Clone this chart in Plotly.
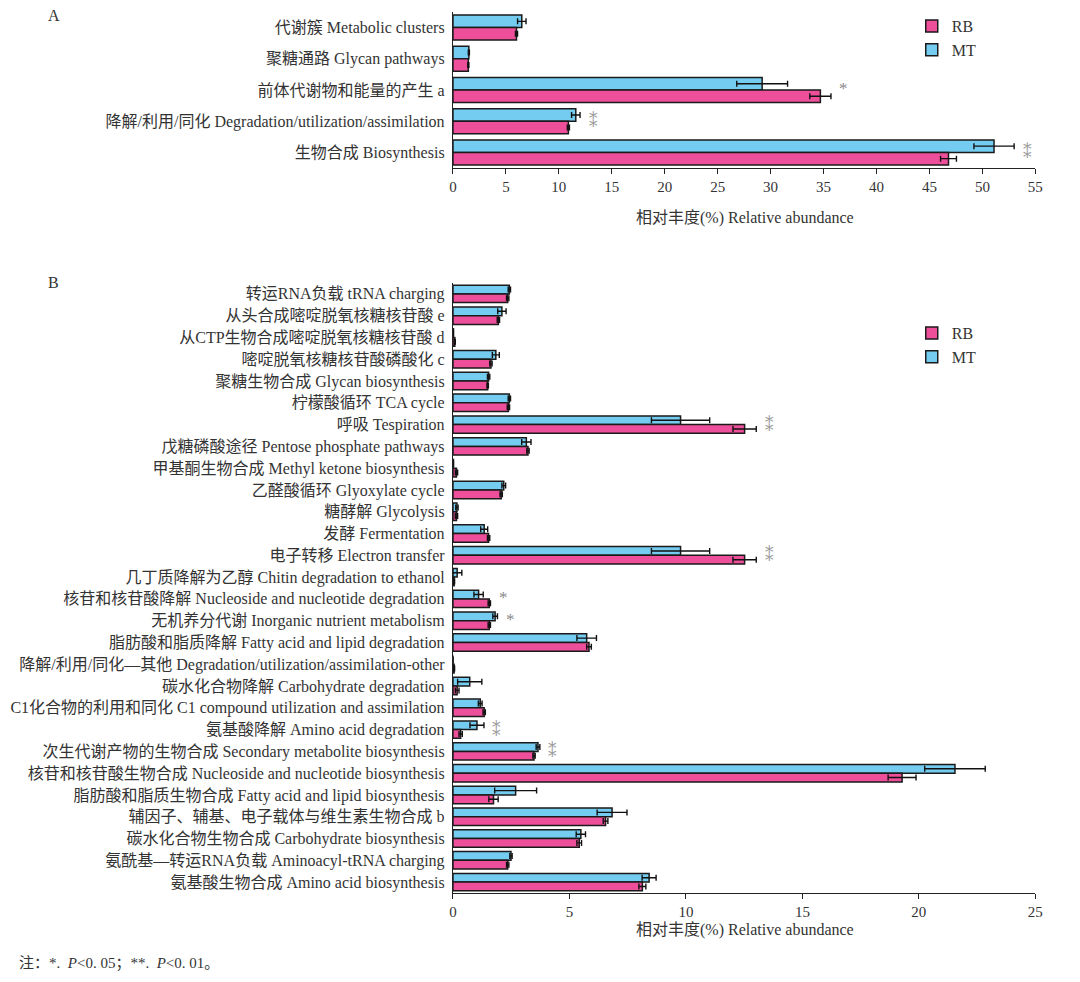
import plotly.graph_objects as go

# page has an 8px body margin: size the figure to fit inside it
OFF = 8
W, H = 1080 - 2 * OFF, 982 - 2 * OFF
FONT = "Liberation Serif, Times New Roman, Noto Sans CJK SC, serif"
TXT = "#333333"
C_RB = "#EE4F9B"
C_MT = "#74CDF1"

# ---------------- Panel A data ----------------
cats_a = ["代谢簇 Metabolic clusters", "聚糖通路 Glycan pathways", "前体代谢物和能量的产生 a",
          "降解/利用/同化 Degradation/utilization/assimilation", "生物合成 Biosynthesis"]
mt_a = [6.5, 1.5, 29.2, 11.6, 51.1]
mt_a_err = [0.4, 0.05, 2.4, 0.4, 1.9]
rb_a = [6.0, 1.45, 34.7, 10.9, 46.8]
rb_a_err = [0.1, 0.05, 1.0, 0.1, 0.75]
sig_a = ["", "", "*", "**", "**"]
ticks_a = list(range(0, 56, 5))

# ---------------- Panel B data ----------------
cats_b = ["转运RNA负载 tRNA charging", "从头合成嘧啶脱氧核糖核苷酸 e", "从CTP生物合成嘧啶脱氧核糖核苷酸 d",
          "嘧啶脱氧核糖核苷酸磷酸化 c", "聚糖生物合成 Glycan biosynthesis", "柠檬酸循环 TCA cycle",
          "呼吸 Tespiration", "戊糖磷酸途径 Pentose phosphate pathways",
          "甲基酮生物合成 Methyl ketone biosynthesis", "乙醛酸循环 Glyoxylate cycle", "糖酵解 Glycolysis",
          "发酵 Fermentation", "电子转移 Electron transfer", "几丁质降解为乙醇 Chitin degradation to ethanol",
          "核苷和核苷酸降解 Nucleoside and nucleotide degradation",
          "无机养分代谢 Inorganic nutrient metabolism", "脂肪酸和脂质降解 Fatty acid and lipid degradation",
          "降解/利用/同化—其他 Degradation/utilization/assimilation-other",
          "碳水化合物降解 Carbohydrate degradation",
          "C1化合物的利用和同化 C1 compound utilization and assimilation",
          "氨基酸降解 Amino acid degradation", "次生代谢产物的生物合成 Secondary metabolite biosynthesis",
          "核苷和核苷酸生物合成 Nucleoside and nucleotide biosynthesis",
          "脂肪酸和脂质生物合成 Fatty acid and lipid biosynthesis", "辅因子、辅基、电子载体与维生素生物合成 b",
          "碳水化合物生物合成 Carbohydrate biosynthesis", "氨酰基—转运RNA负载 Aminoacyl-tRNA charging",
          "氨基酸生物合成 Amino acid biosynthesis"]
mt_b = [2.42, 2.1, 0.02, 1.84, 1.53, 2.42, 9.77, 3.15, 0.02, 2.18, 0.17, 1.34, 9.77, 0.18, 1.1, 1.81,
        5.74, 0.0, 0.72, 1.17, 1.03, 3.65, 21.55, 2.69, 6.83, 5.49, 2.49, 8.42]
mt_b_err = [0.05, 0.18, 0.0, 0.15, 0.05, 0.05, 1.25, 0.2, 0.0, 0.08, 0.05, 0.15, 1.25, 0.2, 0.2, 0.1,
            0.42, 0.0, 0.52, 0.08, 0.3, 0.08, 1.3, 0.9, 0.64, 0.2, 0.05, 0.3]
rb_b = [2.35, 1.95, 0.08, 1.63, 1.49, 2.38, 12.52, 3.22, 0.15, 2.07, 0.15, 1.53, 12.52, 0.05, 1.56, 1.56,
        5.84, 0.05, 0.18, 1.34, 0.33, 3.48, 19.28, 1.74, 6.55, 5.42, 2.35, 8.13]
rb_b_err = [0.05, 0.05, 0.02, 0.05, 0.03, 0.05, 0.5, 0.05, 0.05, 0.05, 0.05, 0.05, 0.5, 0.02, 0.05, 0.05,
            0.1, 0.02, 0.08, 0.05, 0.07, 0.05, 0.6, 0.2, 0.1, 0.1, 0.05, 0.15]
sig_b = ["", "", "", "", "", "", "**", "", "", "", "", "", "**", "", "*", "*", "", "", "", "", "**", "**",
         "", "", "", "", "", ""]
ticks_b = list(range(0, 26, 5))

# ---------------- geometry helpers (reference page pixels -> paper) ----------------
def px(x):
    return (x - OFF) / W

def py(y):
    return 1 - (y - OFF) / H

X0, X1 = 454, 1043
A_TOP, A_BOT = 12, 168
B_TOP, B_BOT = 283, 893

fig = go.Figure()

def add_panel(cats, mt, mte, rb, rbe, xa, ya, legend):
    common = dict(orientation="h", marker_line_color="#1a1a1a", marker_line_width=1.5,
                  xaxis=xa, yaxis=ya, legend=legend)
    fig.add_trace(go.Bar(y=cats, x=mt, name="MT", marker_color=C_MT, legendrank=2,
                         error_x=dict(type="data", array=mte, color="#111111", thickness=1.4, width=3),
                         **common))
    fig.add_trace(go.Bar(y=cats, x=rb, name="RB", marker_color=C_RB, legendrank=1,
                         error_x=dict(type="data", array=rbe, color="#111111", thickness=1.4, width=3),
                         **common))

add_panel(cats_a, mt_a, mt_a_err, rb_a, rb_a_err, "x", "y", "legend")
add_panel(cats_b, mt_b, mt_b_err, rb_b, rb_b_err, "x2", "y2", "legend2")

annotations = []
STAR_FONT = dict(family=FONT, size=17, color="#8a8a8a")
DSTAR_FONT = dict(family="DejaVu Serif, DejaVu Sans", size=17, color="#9a9a9a")

def add_sig(cats, mt, mte, rb, rbe, sig, xref, yref):
    for c, m, me, r, re_, s in zip(cats, mt, mte, rb, rbe, sig):
        if not s:
            continue
        xm = max(m + me, r + re_)
        if s == "**":
            # U+2051: two asterisks aligned vertically
            annotations.append(dict(x=xm, y=c, xref=xref, yref=yref, text="\u2051", showarrow=False,
                                    xshift=13, yshift=0, font=DSTAR_FONT,
                                    xanchor="center", yanchor="middle"))
        else:
            annotations.append(dict(x=xm, y=c, xref=xref, yref=yref, text="*", showarrow=False,
                                    xshift=13, yshift=1, font=STAR_FONT,
                                    xanchor="center", yanchor="middle"))

add_sig(cats_a, mt_a, mt_a_err, rb_a, rb_a_err, sig_a, "x", "y")
add_sig(cats_b, mt_b, mt_b_err, rb_b, rb_b_err, sig_b, "x2", "y2")

# panel letters, axis titles, footnote
annotations += [
    dict(x=px(42), y=py(15), xref="paper", yref="paper", text="A", showarrow=False,
         xanchor="left", yanchor="middle", font=dict(family=FONT, size=16, color=TXT)),
    dict(x=px(42), y=py(283), xref="paper", yref="paper", text="B", showarrow=False,
         xanchor="left", yanchor="middle", font=dict(family=FONT, size=16, color=TXT)),
    dict(x=px(749), y=py(218), xref="paper", yref="paper", text="相对丰度(%) Relative abundance",
         showarrow=False, xanchor="center", yanchor="middle", font=dict(family=FONT, size=16, color=TXT)),
    dict(x=px(749), y=py(930), xref="paper", yref="paper", text="相对丰度(%) Relative abundance",
         showarrow=False, xanchor="center", yanchor="middle", font=dict(family=FONT, size=16, color=TXT)),
    dict(x=px(13), y=py(963), xref="paper", yref="paper",
         text="注：*.  <i>P</i>&lt;0. 05；**.  <i>P</i>&lt;0. 01。",
         showarrow=False, xanchor="left", yanchor="middle", font=dict(family=FONT, size=15, color=TXT)),
]

xcommon = dict(showline=True, linecolor="#222222", linewidth=1.3, ticks="outside", ticklen=5,
               tickcolor="#222222", tickwidth=1.3, showgrid=False, zeroline=False,
               tickfont=dict(family=FONT, size=15, color=TXT))
ycommon = dict(showline=True, linecolor="#222222", linewidth=1.3, ticks="", showgrid=False,
               autorange="reversed", tickfont=dict(family=FONT, size=16, color=TXT), ticklabelstandoff=4)

leg_common = dict(xanchor="left", yanchor="top", bgcolor="rgba(0,0,0,0)",
                  font=dict(family=FONT, size=16, color=TXT), tracegroupgap=0)

fig.update_layout(
    width=W, height=H, margin=dict(l=0, r=0, t=0, b=0),
    paper_bgcolor="white", plot_bgcolor="white",
    barmode="group", bargap=0.2, bargroupgap=0.0,
    xaxis=dict(domain=[px(X0), px(X1)], anchor="y", range=[0, 55], tickvals=ticks_a, **xcommon),
    yaxis=dict(domain=[py(A_BOT), py(A_TOP)], anchor="x", **ycommon),
    xaxis2=dict(domain=[px(X0), px(X1)], anchor="y2", range=[0, 25], tickvals=ticks_b, **xcommon),
    yaxis2=dict(domain=[py(B_BOT), py(B_TOP)], anchor="x2", **ycommon),
    legend=dict(x=px(918), y=py(9), **leg_common),
    legend2=dict(x=px(918), y=py(316), **leg_common),
    annotations=annotations,
    showlegend=True,
)

fig.write_html("out.html")
